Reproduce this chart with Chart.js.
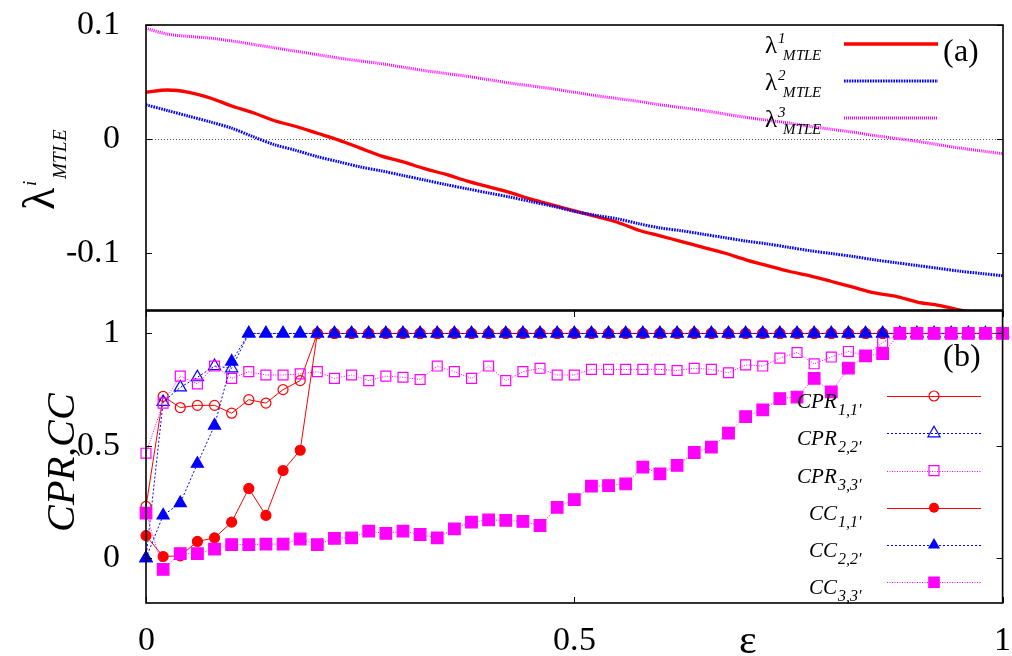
<!DOCTYPE html>
<html>
<head>
<meta charset="utf-8">
<script src="https://cdn.jsdelivr.net/npm/chart.js@4.4.1/dist/chart.umd.min.js"></script>
<style>
  @font-face { font-family: 'PlotSerif'; font-style: normal; font-weight: 400;
    src: local('Liberation Serif'), local('LiberationSerif'), local('LiberationSerif-Regular'), local('Times New Roman'); }
  @font-face { font-family: 'PlotSerif'; font-style: italic; font-weight: 400;
    src: local('Liberation Serif Italic'), local('LiberationSerif-Italic'), local('Times New Roman Italic'); }
  html, body { margin: 0; padding: 0; background: #fff; }
  #wrap { position: relative; width: 1012px; height: 656px; background: #fff; }
  #wrap canvas { position: absolute; left: 0; top: 0; }
</style>
</head>
<body>
<div id="wrap">
  <canvas id="panelA" width="1012" height="656"></canvas>
  <canvas id="panelB" width="1012" height="656"></canvas>
</div>
<script>
// ---- panel (a): maximal transverse Lyapunov exponents vs coupling ----
const EPS_FINE = [0,0.025,0.05,0.075,0.1,0.125,0.15,0.175,0.2,0.225,0.25,0.275,0.3,0.325,0.35,0.375,0.4,0.425,0.45,0.475,0.5,0.525,0.55,0.575,0.6,0.625,0.65,0.675,0.7,0.725,0.75,0.775,0.8,0.825,0.85,0.875,0.9,0.925,0.95,0.975,1];
const LAMBDA_1 = [0.041,0.043,0.041,0.036,0.029,0.023,0.016,0.011,0.005,-0.001,-0.008,-0.015,-0.020,-0.026,-0.031,-0.037,-0.042,-0.047,-0.053,-0.058,-0.063,-0.068,-0.073,-0.080,-0.085,-0.090,-0.095,-0.100,-0.106,-0.111,-0.116,-0.120,-0.125,-0.130,-0.135,-0.138,-0.143,-0.146,-0.150,-0.154,-0.158];
const LAMBDA_2 = [0.030,0.025,0.020,0.015,0.0095,0.002,-0.005,-0.010,-0.0155,-0.020,-0.0245,-0.028,-0.032,-0.036,-0.040,-0.0437,-0.0474,-0.051,-0.055,-0.059,-0.0635,-0.067,-0.070,-0.0743,-0.078,-0.0805,-0.0835,-0.0865,-0.0895,-0.092,-0.095,-0.098,-0.1005,-0.103,-0.106,-0.1085,-0.111,-0.1135,-0.116,-0.118,-0.120];
const LAMBDA_3 = [0.097,0.092,0.090,0.0885,0.086,0.083,0.080,0.077,0.074,0.071,0.0685,0.066,0.063,0.060,0.0575,0.055,0.052,0.049,0.0465,0.044,0.041,0.038,0.0355,0.033,0.030,0.0275,0.025,0.022,0.019,0.0165,0.014,0.011,0.0085,0.006,0.003,0.0005,-0.002,-0.005,-0.008,-0.0105,-0.013];
const A_Y_TICKS = [-0.1, 0, 0.1];
const A_Y_LABELS = ['-0.1', '0', '0.1'];

// ---- panel (b): phase-relation and cross-correlation measures ----
const EPS = [0,0.02,0.04,0.06,0.08,0.1,0.12,0.14,0.16,0.18,0.2,0.22,0.24,0.26,0.28,0.3,0.32,0.34,0.36,0.38,0.4,0.42,0.44,0.46,0.48,0.5,0.52,0.54,0.56,0.58,0.6,0.62,0.64,0.66,0.68,0.7,0.72,0.74,0.76,0.78,0.8,0.82,0.84,0.86,0.88,0.9,0.92,0.94,0.96,0.98,1];
const CPR_11 = [0.23,0.72,0.67,0.68,0.68,0.645,0.705,0.69,0.75,0.79,
  1,1,1,1,1,1,1,1,1,1, 1,1,1,1,1,1,1,1,1,1, 1,1,1,1,1,1,1,1,1,1, 1,1,1,1,1,1,1,1,1,1, 1];
const CPR_22 = [0,0.695,0.76,0.805,0.855,0.845,1,1,1,1,
  1,1,1,1,1,1,1,1,1,1, 1,1,1,1,1,1,1,1,1,1, 1,1,1,1,1,1,1,1,1,1, 1,1,1,1,1,1,1,1,1,1, 1];
const CPR_33 = [0.467,0.69,0.81,0.775,0.855,0.80,0.83,0.815,0.815,0.82,
  0.83,0.80,0.815,0.79,0.81,0.805,0.795,0.855,0.83,0.80,
  0.855,0.79,0.83,0.845,0.815,0.815,0.84,0.84,0.84,0.84,
  0.84,0.835,0.845,0.84,0.825,0.86,0.855,0.89,0.915,0.865,
  0.895,0.92,0.90,0.96,1,1,1,1,1,1,
  1];
const CC_11 = [0.10,0.007,0.01,0.074,0.09,0.16,0.31,0.19,0.39,0.48,
  1,1,1,1,1,1,1,1,1,1, 1,1,1,1,1,1,1,1,1,1, 1,1,1,1,1,1,1,1,1,1, 1,1,1,1,1,1,1,1,1,1, 1];
const CC_22 = [0,0.19,0.245,0.42,0.59,0.875,1,1,1,1,
  1,1,1,1,1,1,1,1,1,1, 1,1,1,1,1,1,1,1,1,1, 1,1,1,1,1,1,1,1,1,1, 1,1,1,1,1,1,1,1,1,1, 1];
const CC_33 = [0.20,-0.05,0.02,0.02,0.04,0.06,0.06,0.062,0.062,0.085,
  0.06,0.088,0.09,0.12,0.11,0.12,0.105,0.09,0.13,0.16,
  0.17,0.168,0.163,0.145,0.226,0.26,0.32,0.323,0.33,0.405,
  0.375,0.413,0.47,0.494,0.556,0.63,0.66,0.71,0.717,0.80,
  0.74,0.846,0.90,0.91,1,1,1,1,1,1,
  1];
const B_Y_TICKS = [0, 0.5, 1];
const B_Y_LABELS = ['0', '0.5', '1'];
const X_TICKS = [0, 0.5, 1];
const X_LABELS = ['0', '0.5', '1'];

const SERIF = 'PlotSerif, "Liberation Serif", "Times New Roman", Tinos, "DejaVu Serif", serif';
const RED = '#ff0000', BLUE = '#0000ff', MAGENTA = '#ff00ff';

const toXY = (xs, ys) => xs.map((x, i) => ({ x, y: ys[i] }));

// Frame, inward tick marks and the dotted zero axis
const panelFrame = {
  id: 'panelFrame',
  beforeDatasetsDraw(chart, args, o) {
    if (!o.zeroLine) return;
    const { ctx, chartArea: a } = chart;
    const py = Math.round(chart.scales.y.getPixelForValue(0)) + 0.5;
    ctx.save();
    ctx.strokeStyle = '#555';
    ctx.lineWidth = 1;
    ctx.setLineDash([1, 2]);
    ctx.beginPath();
    ctx.moveTo(a.left, py);
    ctx.lineTo(a.right, py);
    ctx.stroke();
    ctx.restore();
  },
  afterDatasetsDraw(chart, args, o) {
    const { ctx, chartArea: a } = chart;
    const x = chart.scales.x, y = chart.scales.y;
    ctx.save();
    ctx.strokeStyle = '#000';
    ctx.lineWidth = 1;
    ctx.beginPath();
    y.ticks.forEach(t => {
      const py = Math.round(y.getPixelForValue(t.value)) + 0.5;
      ctx.moveTo(a.left, py); ctx.lineTo(a.left + 6, py);
      ctx.moveTo(a.right - 6, py); ctx.lineTo(a.right, py);
    });
    if (o.xTicks) {
      x.ticks.forEach(t => {
        const px = Math.round(x.getPixelForValue(t.value)) + 0.5;
        ctx.moveTo(px, a.top); ctx.lineTo(px, a.top + 6);
        ctx.moveTo(px, a.bottom - 6); ctx.lineTo(px, a.bottom);
      });
    }
    ctx.stroke();
    ctx.lineWidth = 1.6;
    ctx.strokeRect(a.left, a.top, a.right - a.left, a.bottom - a.top);
    ctx.restore();
  }
};

function marker(ctx, style, cx, cy, filled, color) {
  ctx.save();
  ctx.strokeStyle = color;
  ctx.fillStyle = color;
  ctx.lineWidth = 1.2;
  ctx.setLineDash([]);
  ctx.beginPath();
  if (style === 'circle') {
    ctx.arc(cx, cy, 5, 0, Math.PI * 2);
  } else if (style === 'triangle') {
    const r = 7;
    ctx.moveTo(cx, cy - r);
    ctx.lineTo(cx + r * 0.866, cy + r * 0.5);
    ctx.lineTo(cx - r * 0.866, cy + r * 0.5);
    ctx.closePath();
  } else {
    const h = filled ? 5.8 : 5;
    ctx.rect(cx - h, cy - h, 2 * h, 2 * h);
  }
  if (filled) ctx.fill(); else ctx.stroke();
  ctx.restore();
}

// Axis title and key of panel (a)
const panelAText = {
  id: 'panelAText',
  afterDraw(chart) {
    const ctx = chart.ctx;
    ctx.save();
    ctx.fillStyle = '#000';
    ctx.textBaseline = 'alphabetic';
    ctx.textAlign = 'left';

    // rotated y title: lambda^i_MTLE
    ctx.save();
    ctx.translate(54, 210);
    ctx.rotate(-Math.PI / 2);
    ctx.font = '46px ' + SERIF;
    ctx.fillText('λ', 0, 0);
    const wl = ctx.measureText('λ').width;
    ctx.font = 'italic 19px ' + SERIF;
    ctx.fillText('i', wl + 2, -18);
    ctx.fillText('MTLE', wl + 9, 12);
    ctx.restore();

    // key
    const keyColors = [RED, BLUE, MAGENTA];
    const keyDash = [[], [1.6, 1], [1, 1]];
    for (let i = 0; i < 3; i++) {
      const base = 53 + 37 * i;
      ctx.font = '25px ' + SERIF;
      ctx.fillText('λ', 765, base);
      const w = ctx.measureText('λ').width;
      ctx.font = 'italic 15px ' + SERIF;
      ctx.fillText(String(i + 1), 765 + w + 1, base - 10);
      ctx.fillText('MTLE', 783, base + 7);
      ctx.save();
      ctx.strokeStyle = keyColors[i];
      ctx.lineWidth = i === 0 ? 3.3 : 3;
      ctx.setLineDash(keyDash[i]);
      ctx.beginPath();
      ctx.moveTo(844, 44 + 37 * i);
      ctx.lineTo(938, 44 + 37 * i);
      ctx.stroke();
      ctx.restore();
    }
    ctx.font = '32px ' + SERIF;
    ctx.fillText('(a)', 943, 61);
    ctx.restore();
  }
};

// Axis titles and key of panel (b)
const panelBText = {
  id: 'panelBText',
  afterDraw(chart) {
    const ctx = chart.ctx;
    ctx.save();
    ctx.fillStyle = '#000';

    ctx.save();
    ctx.translate(74, 462);
    ctx.rotate(-Math.PI / 2);
    ctx.textAlign = 'center';
    ctx.textBaseline = 'alphabetic';
    ctx.font = 'italic 40px ' + SERIF;
    ctx.fillText('CPR,CC', 0, 0);
    ctx.restore();

    ctx.textAlign = 'center';
    ctx.textBaseline = 'alphabetic';
    ctx.font = '42px ' + SERIF;
    ctx.fillText('ε', 748, 653);

    const rows = [
      { main: 'CPR', sub: '1,1′', color: RED, dash: [], style: 'circle', filled: false },
      { main: 'CPR', sub: '2,2′', color: BLUE, dash: [2, 2], style: 'triangle', filled: false },
      { main: 'CPR', sub: '3,3′', color: MAGENTA, dash: [1, 1.5], style: 'rect', filled: false },
      { main: 'CC', sub: '1,1′', color: RED, dash: [], style: 'circle', filled: true },
      { main: 'CC', sub: '2,2′', color: BLUE, dash: [2, 2], style: 'triangle', filled: true },
      { main: 'CC', sub: '3,3′', color: MAGENTA, dash: [1, 1.5], style: 'rect', filled: true }
    ];
    const lineY = [396, 433.3, 470.7, 507.7, 545, 582.3];
    rows.forEach((r, j) => {
      const L = lineY[j];
      ctx.textAlign = 'right';
      ctx.font = 'italic 21px ' + SERIF;
      ctx.fillText(r.main, 837, L + 12);
      ctx.textAlign = 'left';
      ctx.font = 'italic 16px ' + SERIF;
      ctx.fillText(r.sub, 838, L + 19);
      ctx.save();
      ctx.strokeStyle = r.color;
      ctx.lineWidth = 1;
      ctx.setLineDash(r.dash);
      ctx.beginPath();
      ctx.moveTo(887, Math.round(L) + 0.5);
      ctx.lineTo(981, Math.round(L) + 0.5);
      ctx.stroke();
      ctx.restore();
      marker(ctx, r.style, 934, L, r.filled, r.color);
    });

    ctx.textAlign = 'left';
    ctx.font = '32px ' + SERIF;
    ctx.fillText('(b)', 943, 366);
    ctx.restore();
  }
};

const tickFont = { family: SERIF, size: 34, lineHeight: 1 };

// the layout margins come only from layout.padding and the fixed axis sizes
function noScalePadding(s) {
  s.paddingTop = 0; s.paddingBottom = 0; s.paddingLeft = 0; s.paddingRight = 0;
}

function yScale(min, max, values, labels) {
  return {
    type: 'linear', position: 'left', min, max,
    afterFit: s => { s.width = 146; noScalePadding(s); },
    afterBuildTicks: s => { s.ticks = values.map(v => ({ value: v })); },
    grid: { display: false, drawTicks: false },
    border: { display: false },
    ticks: { font: tickFont, color: '#000', padding: 26, callback: (v, i) => labels[i] }
  };
}

const common = {
  responsive: false,
  animation: false,
  devicePixelRatio: 1,
  events: [],
  plugins: { legend: { display: false }, tooltip: { enabled: false }, title: { display: false } }
};

const chartA = new Chart(document.getElementById('panelA'), {
  type: 'line',
  data: {
    datasets: [
      { data: toXY(EPS_FINE, LAMBDA_1), borderColor: RED, borderWidth: 3.3, pointRadius: 0, tension: 0.3, clip: 0, order: 3 },
      { data: toXY(EPS_FINE, LAMBDA_2), borderColor: BLUE, borderWidth: 3, borderDash: [1.6, 1], pointRadius: 0, tension: 0.3, clip: 0, order: 2 },
      { data: toXY(EPS_FINE, LAMBDA_3), borderColor: MAGENTA, borderWidth: 3, borderDash: [1, 1], pointRadius: 0, tension: 0.3, clip: 0, order: 1 }
    ]
  },
  options: Object.assign({}, common, {
    layout: { padding: { top: 25, right: 9, bottom: 346, left: 0 } },
    scales: {
      x: { type: 'linear', min: 0, max: 1, display: false, afterFit: noScalePadding },
      y: yScale(-0.15, 0.1, A_Y_TICKS, A_Y_LABELS)
    },
    plugins: Object.assign({}, common.plugins, { panelFrame: { zeroLine: true, xTicks: false } })
  }),
  plugins: [panelFrame, panelAText]
});

function bSet(ys, color, dash, style, radius, filled, order) {
  return {
    data: toXY(EPS, ys),
    borderColor: color,
    borderWidth: 1,
    borderDash: dash,
    tension: 0,
    clip: false,
    order,
    pointStyle: style,
    pointRadius: radius,
    pointBorderWidth: 1.2,
    pointBorderColor: color,
    pointBackgroundColor: filled ? color : 'rgba(255,255,255,0)'
  };
}

const chartB = new Chart(document.getElementById('panelB'), {
  type: 'line',
  data: {
    datasets: [
      bSet(CPR_11, RED, [], 'circle', 5, false, 6),
      bSet(CPR_22, BLUE, [2, 2], 'triangle', 7, false, 5),
      bSet(CPR_33, MAGENTA, [1, 1.5], 'rect', 7, false, 4),
      bSet(CC_11, RED, [], 'circle', 5, true, 3),
      bSet(CC_22, BLUE, [2, 2], 'triangle', 7, true, 2),
      bSet(CC_33, MAGENTA, [1, 1.5], 'rect', 8.2, true, 1)
    ]
  },
  options: Object.assign({}, common, {
    layout: { padding: { top: 311, right: 9, bottom: 0, left: 0 } },
    scales: {
      x: {
        type: 'linear', position: 'bottom', min: 0, max: 1,
        afterFit: s => { s.height = 53; noScalePadding(s); },
        afterBuildTicks: s => { s.ticks = X_TICKS.map(v => ({ value: v })); },
        grid: { display: false, drawTicks: false },
        border: { display: false },
        ticks: { font: tickFont, color: '#000', padding: 21, maxRotation: 0, autoSkip: false, callback: (v, i) => X_LABELS[i] }
      },
      y: yScale(-0.2, 1.1, B_Y_TICKS, B_Y_LABELS)
    },
    plugins: Object.assign({}, common.plugins, { panelFrame: { zeroLine: false, xTicks: true } })
  }),
  plugins: [panelFrame, panelBText]
});

// redraw once the serif faces are ready
if (document.fonts && document.fonts.load) {
  Promise.all([
    document.fonts.load('34px PlotSerif', '0.5λε'),
    document.fonts.load('italic 34px PlotSerif', 'CPRMTLE')
  ]).then(() => { chartA.update(); chartB.update(); }).catch(() => {});
}
</script>
</body>
</html>
